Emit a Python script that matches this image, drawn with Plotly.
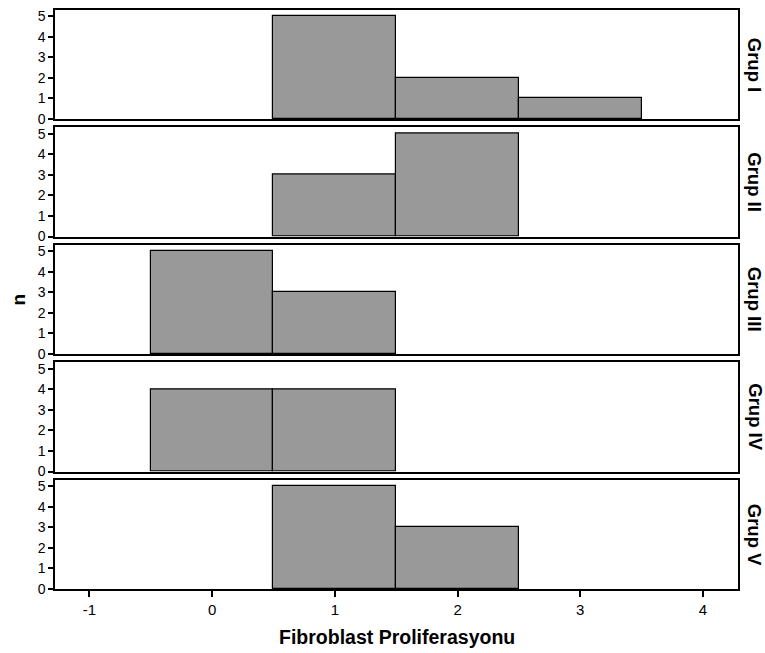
import plotly.graph_objects as go
from plotly.subplots import make_subplots

groups = ["Grup I", "Grup II", "Grup III", "Grup IV", "Grup V"]
bins = [[1, 2, 3], [1, 2], [0, 1], [0, 1], [1, 2]]
counts = [[5, 2, 1], [3, 5], [5, 3], [4, 4], [5, 3]]
x_ticks = [-1, 0, 1, 2, 3, 4]
x_ticktext = ["-1", "0", "1", "2", "3", "4"]
y_ticks = [0, 1, 2, 3, 4, 5]

fig = make_subplots(rows=5, cols=1, shared_xaxes=True, vertical_spacing=0.0146)

font_family = "Liberation Sans, Arial, sans-serif"

for i, (g, b, c) in enumerate(zip(groups, bins, counts)):
    r = i + 1
    fig.add_trace(go.Bar(x=b, y=c, width=1,
                         marker=dict(color="#999999", line=dict(color="black", width=1.2)),
                         showlegend=False), row=r, col=1)
    fig.update_yaxes(range=[0, 5.3], tickvals=y_ticks, ticks="outside", ticklen=5,
                     tickwidth=1.5, tickcolor="black", showline=True, linecolor="black",
                     linewidth=1.5, mirror=True, showgrid=False, zeroline=False,
                     tickfont=dict(size=14, color="black", family=font_family), row=r, col=1)
    fig.update_xaxes(range=[-1.28, 4.285], tickvals=x_ticks, ticktext=x_ticktext,
                     ticks="outside" if r == 5 else "",
                     ticklen=6, tickwidth=1.5, tickcolor="black", showline=True,
                     linecolor="black", linewidth=1.5, mirror=True, showgrid=False,
                     zeroline=False, showticklabels=(r == 5),
                     tickfont=dict(size=15, color="black", family=font_family), row=r, col=1)
    dom = fig.layout["yaxis" + ("" if r == 1 else str(r))].domain
    fig.add_annotation(text="<b>%s</b>" % g, xref="paper", yref="paper", x=1.0245,
                       y=(dom[0] + dom[1]) / 2, textangle=90, showarrow=False,
                       xanchor="center", yanchor="middle",
                       font=dict(size=18.5, color="black", family=font_family))

fig.add_annotation(text="<b>n</b>", xref="paper", yref="paper", x=-0.054, y=0.5,
                   textangle=-90, showarrow=False, xanchor="center", yanchor="middle",
                   font=dict(size=19, color="black", family=font_family))
fig.add_annotation(text="<b>Fibroblast Proliferasyonu</b>", xref="paper", yref="paper",
                   x=0.5, y=-0.083, showarrow=False, xanchor="center", yanchor="middle",
                   font=dict(size=19.5, color="black", family=font_family))

fig.update_layout(width=765, height=653, margin=dict(l=55, r=27, t=8, b=64),
                  plot_bgcolor="white", paper_bgcolor="white", bargap=0)
fig.write_html("out.html")
